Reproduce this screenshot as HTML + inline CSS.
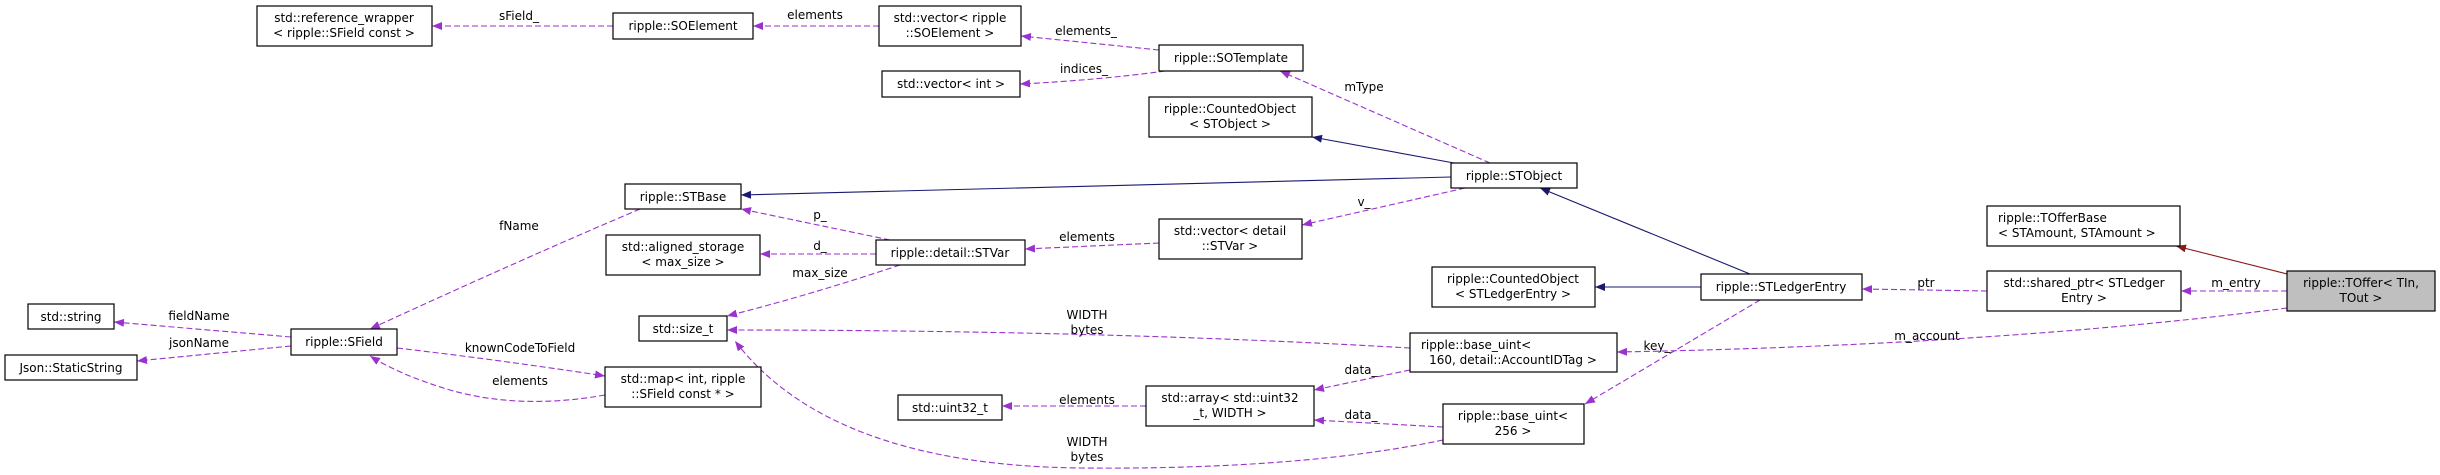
<!DOCTYPE html>
<html><head><meta charset="utf-8"><style>
html,body{margin:0;padding:0;background:#fff;}
svg{display:block;}
text{font-family:"DejaVu Sans","Liberation Sans",sans-serif;font-size:12px;fill:#000;}
.n{fill:#fff;stroke:#000;stroke-width:1.2;}
.d{fill:none;stroke:#9a32cd;stroke-width:1.1;stroke-dasharray:6,3;}
.s{fill:none;stroke:#191970;stroke-width:1.1;}
.r{fill:none;stroke:#8b1a1a;stroke-width:1.1;}
</style></head><body>
<svg width="2440" height="475" viewBox="0 0 2440 475" xmlns="http://www.w3.org/2000/svg">
<defs>
<marker id="ap" markerWidth="11" markerHeight="8" refX="10" refY="4" orient="auto" markerUnits="userSpaceOnUse"><path d="M0,0 L10,4 L0,8 Z" fill="#9a32cd"/></marker>
<marker id="ab" markerWidth="11" markerHeight="8" refX="10" refY="4" orient="auto" markerUnits="userSpaceOnUse"><path d="M0,0 L10,4 L0,8 Z" fill="#191970"/></marker>
<marker id="ar" markerWidth="11" markerHeight="8" refX="10" refY="4" orient="auto" markerUnits="userSpaceOnUse"><path d="M0,0 L10,4 L0,8 Z" fill="#8b1a1a"/></marker>
</defs>

<!-- edges -->
<path class="d" d="M613,26 L432,26" marker-end="url(#ap)"/>
<text x="519" y="20" text-anchor="middle">sField_</text>
<path class="d" d="M879,26 L753,26" marker-end="url(#ap)"/>
<text x="815" y="19" text-anchor="middle">elements</text>
<path class="d" d="M1159,50 L1021,36" marker-end="url(#ap)"/>
<text x="1086" y="35" text-anchor="middle">elements_</text>
<path class="d" d="M1165,71 Q1100,80 1020,84" marker-end="url(#ap)"/>
<text x="1084" y="73" text-anchor="middle">indices_</text>
<path class="d" d="M1490,163 L1280,71" marker-end="url(#ap)"/>
<text x="1364" y="91" text-anchor="middle">mType</text>
<path class="s" d="M1454,163 L1312,137" marker-end="url(#ab)"/>
<path class="s" d="M1451,177 L741,195" marker-end="url(#ab)"/>
<path class="d" d="M1465,188 L1302,225" marker-end="url(#ap)"/>
<text x="1364" y="206" text-anchor="middle">v_</text>
<path class="d" d="M1159,243 L1025,249" marker-end="url(#ap)"/>
<text x="1087" y="241" text-anchor="middle">elements</text>
<path class="d" d="M890,240 L741,209" marker-end="url(#ap)"/>
<text x="820" y="219" text-anchor="middle">p_</text>
<path class="d" d="M876,254 L760,254" marker-end="url(#ap)"/>
<text x="820" y="250" text-anchor="middle">d_</text>
<path class="d" d="M900,265 Q810,295 727,316" marker-end="url(#ap)"/>
<text x="820" y="277" text-anchor="middle">max_size</text>
<path class="d" d="M640,209 Q520,260 370,329" marker-end="url(#ap)"/>
<text x="519" y="230" text-anchor="middle">fName</text>
<path class="d" d="M291,337 L114,322" marker-end="url(#ap)"/>
<text x="199" y="320" text-anchor="middle">fieldName</text>
<path class="d" d="M291,346 L137,361" marker-end="url(#ap)"/>
<text x="199" y="347" text-anchor="middle">jsonName</text>
<path class="d" d="M397,348 Q500,360 605,376" marker-end="url(#ap)"/>
<text x="520" y="352" text-anchor="middle">knownCodeToField</text>
<path class="d" d="M605,395 Q520,410 450,390 Q400,375 370,356" marker-end="url(#ap)"/>
<text x="520" y="385" text-anchor="middle">elements</text>
<path class="d" d="M1410,348 Q1100,330 727,330" marker-end="url(#ap)"/>
<text x="1087" y="319" text-anchor="middle">WIDTH</text>
<text x="1087" y="334" text-anchor="middle">bytes</text>
<path class="d" d="M1443,440 Q1300,470 1080,468 Q830,465 735,341" marker-end="url(#ap)"/>
<text x="1087" y="446" text-anchor="middle">WIDTH</text>
<text x="1087" y="461" text-anchor="middle">bytes</text>
<path class="d" d="M1410,370 L1314,390" marker-end="url(#ap)"/>
<text x="1361" y="374" text-anchor="middle">data_</text>
<path class="d" d="M1443,427 L1314,420" marker-end="url(#ap)"/>
<text x="1361" y="419" text-anchor="middle">data_</text>
<path class="d" d="M1146,406 L1002,406" marker-end="url(#ap)"/>
<text x="1087" y="404" text-anchor="middle">elements</text>
<path class="d" d="M1760,300 L1585,404" marker-end="url(#ap)"/>
<text x="1657" y="350" text-anchor="middle">key_</text>
<path class="s" d="M1701,287 L1595,287" marker-end="url(#ab)"/>
<path class="s" d="M1750,274 L1540,188" marker-end="url(#ab)"/>
<path class="d" d="M1987,291 L1862,289" marker-end="url(#ap)"/>
<text x="1926" y="287" text-anchor="middle">ptr</text>
<path class="d" d="M2287,291 L2181,291" marker-end="url(#ap)"/>
<text x="2236" y="287" text-anchor="middle">m_entry</text>
<path class="d" d="M2287,308 Q2000,345 1617,352" marker-end="url(#ap)"/>
<text x="1927" y="340" text-anchor="middle">m_account</text>
<path class="r" d="M2287,274 L2176,246" marker-end="url(#ar)"/>

<!-- nodes -->
<rect class="n" x="257" y="6" width="175" height="40"/>
<text x="344" y="22" text-anchor="middle">std::reference_wrapper</text>
<text x="344" y="37" text-anchor="middle">&lt; ripple::SField const &gt;</text>

<rect class="n" x="613" y="13" width="140" height="26"/>
<text x="683" y="30" text-anchor="middle">ripple::SOElement</text>

<rect class="n" x="879" y="6" width="142" height="40"/>
<text x="950" y="22" text-anchor="middle">std::vector&lt; ripple</text>
<text x="950" y="37" text-anchor="middle">::SOElement &gt;</text>

<rect class="n" x="1159" y="45" width="144" height="26"/>
<text x="1231" y="62" text-anchor="middle">ripple::SOTemplate</text>

<rect class="n" x="882" y="71" width="138" height="26"/>
<text x="951" y="88" text-anchor="middle">std::vector&lt; int &gt;</text>

<rect class="n" x="1149" y="97" width="163" height="40"/>
<text x="1230" y="113" text-anchor="middle">ripple::CountedObject</text>
<text x="1230" y="128" text-anchor="middle">&lt; STObject &gt;</text>

<rect class="n" x="1451" y="163" width="126" height="25"/>
<text x="1514" y="180" text-anchor="middle">ripple::STObject</text>

<rect class="n" x="625" y="184" width="116" height="25"/>
<text x="683" y="201" text-anchor="middle">ripple::STBase</text>

<rect class="n" x="1159" y="219" width="143" height="40"/>
<text x="1230" y="235" text-anchor="middle">std::vector&lt; detail</text>
<text x="1230" y="250" text-anchor="middle">::STVar &gt;</text>

<rect class="n" x="876" y="240" width="149" height="25"/>
<text x="950" y="257" text-anchor="middle">ripple::detail::STVar</text>

<rect class="n" x="606" y="235" width="154" height="40"/>
<text x="683" y="251" text-anchor="middle">std::aligned_storage</text>
<text x="683" y="266" text-anchor="middle">&lt; max_size &gt;</text>

<rect class="n" x="639" y="316" width="88" height="25"/>
<text x="683" y="333" text-anchor="middle">std::size_t</text>

<rect class="n" x="28" y="304" width="86" height="25"/>
<text x="71" y="321" text-anchor="middle">std::string</text>

<rect class="n" x="5" y="355" width="132" height="25"/>
<text x="71" y="372" text-anchor="middle">Json::StaticString</text>

<rect class="n" x="291" y="329" width="106" height="26"/>
<text x="344" y="346" text-anchor="middle">ripple::SField</text>

<rect class="n" x="605" y="367" width="156" height="40"/>
<text x="683" y="383" text-anchor="middle">std::map&lt; int, ripple</text>
<text x="683" y="398" text-anchor="middle">::SField const * &gt;</text>

<rect class="n" x="1432" y="267" width="163" height="40"/>
<text x="1513" y="283" text-anchor="middle">ripple::CountedObject</text>
<text x="1513" y="298" text-anchor="middle">&lt; STLedgerEntry &gt;</text>

<rect class="n" x="1701" y="274" width="161" height="26"/>
<text x="1781" y="291" text-anchor="middle">ripple::STLedgerEntry</text>

<rect class="n" x="1410" y="333" width="207" height="39"/>
<text x="1421" y="349">ripple::base_uint&lt;</text>
<text x="1513" y="364" text-anchor="middle">160, detail::AccountIDTag &gt;</text>

<rect class="n" x="1146" y="386" width="168" height="40"/>
<text x="1230" y="402" text-anchor="middle">std::array&lt; std::uint32</text>
<text x="1230" y="417" text-anchor="middle">_t, WIDTH &gt;</text>

<rect class="n" x="898" y="395" width="104" height="25"/>
<text x="950" y="412" text-anchor="middle">std::uint32_t</text>

<rect class="n" x="1443" y="404" width="141" height="40"/>
<text x="1513" y="420" text-anchor="middle">ripple::base_uint&lt;</text>
<text x="1513" y="435" text-anchor="middle">256 &gt;</text>

<rect class="n" x="1987" y="206" width="193" height="40"/>
<text x="1998" y="222">ripple::TOfferBase</text>
<text x="1998" y="237">&lt; STAmount, STAmount &gt;</text>

<rect class="n" x="1987" y="271" width="194" height="40"/>
<text x="2084" y="287" text-anchor="middle">std::shared_ptr&lt; STLedger</text>
<text x="2084" y="302" text-anchor="middle">Entry &gt;</text>

<rect x="2287" y="271" width="148" height="40" fill="#bfbfbf" stroke="#000" stroke-width="1.2"/>
<text x="2361" y="287" text-anchor="middle">ripple::TOffer&lt; TIn,</text>
<text x="2361" y="302" text-anchor="middle">TOut &gt;</text>
</svg>
</body></html>
